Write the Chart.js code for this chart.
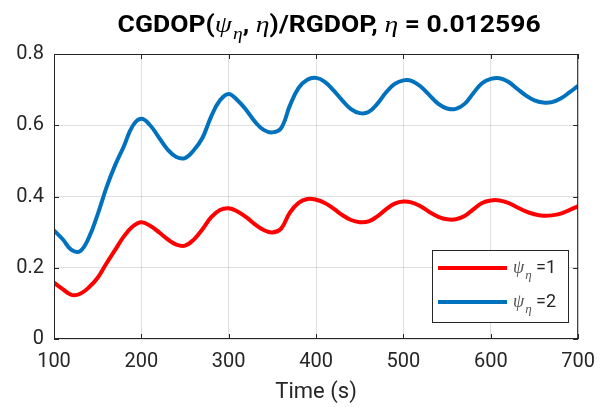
<!DOCTYPE html>
<html>
<head>
<meta charset="utf-8">
<script src="https://cdn.jsdelivr.net/npm/chart.js@4/dist/chart.umd.min.js"></script>
<style>
  html, body { margin: 0; padding: 0; background: #ffffff; }
  #wrap { width: 606px; height: 407px; }
</style>
</head>
<body>
<div id="wrap"><canvas id="c" width="606" height="407"></canvas></div>
<script>
// Sample times (s)
const times = [
  100, 110, 120, 130, 140, 150, 160, 170, 180, 190,
  200, 210, 220, 230, 240, 250, 260, 270, 280, 290,
  300, 310, 320, 330, 340, 350, 360, 370, 380, 390,
  400, 410, 420, 430, 440, 450, 460, 470, 480, 490,
  500, 510, 520, 530, 540, 550, 560, 570, 580, 590,
  600, 610, 620, 630, 640, 650, 660, 670, 680, 690,
  700
];

// CGDOP/RGDOP ratio for psi_eta = 1
const ratioPsi1 = [
  0.158, 0.140, 0.124, 0.127, 0.145, 0.172, 0.212, 0.250, 0.288, 0.316,
  0.328, 0.318, 0.300, 0.280, 0.265, 0.262, 0.279, 0.308, 0.342, 0.362,
  0.367, 0.358, 0.342, 0.322, 0.306, 0.299, 0.310, 0.355, 0.382, 0.393,
  0.391, 0.382, 0.366, 0.348, 0.334, 0.328, 0.330, 0.344, 0.364, 0.380,
  0.386, 0.383, 0.372, 0.356, 0.343, 0.336, 0.336, 0.345, 0.364, 0.382,
  0.389, 0.389, 0.382, 0.370, 0.358, 0.350, 0.346, 0.347, 0.352, 0.362,
  0.373
];

// CGDOP/RGDOP ratio for psi_eta = 2
const ratioPsi2 = [
  0.305, 0.280, 0.250, 0.247, 0.285, 0.350, 0.425, 0.488, 0.541, 0.598,
  0.618, 0.600, 0.566, 0.532, 0.511, 0.508, 0.530, 0.565, 0.625, 0.670,
  0.688, 0.670, 0.643, 0.610, 0.587, 0.580, 0.592, 0.655, 0.705, 0.728,
  0.733, 0.722, 0.698, 0.670, 0.645, 0.634, 0.637, 0.660, 0.692, 0.716,
  0.726, 0.724, 0.708, 0.684, 0.660, 0.647, 0.646, 0.660, 0.690, 0.718,
  0.730, 0.732, 0.722, 0.703, 0.684, 0.670, 0.664, 0.665, 0.675, 0.692,
  0.711
];

const xTicks = [100, 200, 300, 400, 500, 600, 700];
const yTicks = [0, 0.2, 0.4, 0.6, 0.8];
const seriesLabels = ['ψη =1', 'ψη =2'];
const seriesColors = ['#ff0000', '#0072bd'];

const INK = '#262626';
const SANS = 'Roboto, "Noto Sans", sans-serif';
const GREEK = '"Liberation Serif", "DejaVu Serif", serif';

// Draw a sequence of text runs (different fonts / baselines) on one line,
// optionally stretched to a given total width.
function drawRuns(ctx, runs, x, y, align, fitWidth) {
  let total = 0;
  for (const r of runs) {
    ctx.font = r.font;
    r.w = ctx.measureText(r.text).width;
    total += r.w + (r.gap || 0);
  }
  const sx = fitWidth ? fitWidth / total : 1;
  ctx.save();
  ctx.translate(align === 'center' ? x - (total * sx) / 2 : x, y);
  ctx.scale(sx, 1);
  ctx.textBaseline = 'alphabetic';
  ctx.textAlign = 'left';
  let cx = 0;
  for (const r of runs) {
    ctx.font = r.font;
    ctx.fillStyle = r.color || INK;
    ctx.fillText(r.text, cx, r.dy || 0);
    cx += r.w + (r.gap || 0);
  }
  ctx.restore();
}

const frameAndText = {
  id: 'frameAndText',
  afterDatasetsDraw(chart) {
    const { ctx, chartArea: a, scales } = chart;
    ctx.save();

    // axes box
    ctx.strokeStyle = INK;
    ctx.lineWidth = 1;
    ctx.strokeRect(a.left + 0.5, a.top + 0.5, a.right - a.left - 1, a.bottom - a.top - 1);

    // inward tick marks on all four sides
    const tl = 5;
    ctx.beginPath();
    for (const v of xTicks) {
      const px = Math.round(scales.x.getPixelForValue(v)) + 0.5;
      ctx.moveTo(px, a.bottom); ctx.lineTo(px, a.bottom - tl);
      ctx.moveTo(px, a.top); ctx.lineTo(px, a.top + tl);
    }
    for (const v of yTicks) {
      const py = Math.round(scales.y.getPixelForValue(v)) + 0.5;
      ctx.moveTo(a.left, py); ctx.lineTo(a.left + tl, py);
      ctx.moveTo(a.right, py); ctx.lineTo(a.right - tl, py);
    }
    ctx.stroke();

    // title
    const tb = 'bold 23px ' + SANS;
    const tg = 'italic 24px ' + GREEK;
    const ts = 'italic 17px ' + GREEK;
    drawRuns(ctx, [
      { text: 'CGDOP(', font: tb, color: '#000' },
      { text: 'ψ', font: tg, color: '#000', gap: 1 },
      { text: 'η', font: ts, color: '#000', dy: 7 },
      { text: ', ', font: tb, color: '#000' },
      { text: 'η', font: tg, color: '#000' },
      { text: ')/RGDOP, ', font: tb, color: '#000' },
      { text: 'η', font: tg, color: '#000' },
      { text: ' = 0.012596', font: tb, color: '#000' }
    ], (a.left + a.right) / 2 + 13, 31.5, 'center', 423);

    // legend
    const lx = 432, ly = 250, lw = 136, lh = 72;
    ctx.fillStyle = '#ffffff';
    ctx.fillRect(lx, ly, lw, lh);
    ctx.strokeStyle = INK;
    ctx.lineWidth = 1;
    ctx.strokeRect(lx + 0.5, ly + 0.5, lw, lh);
    const rows = [268, 302];
    chart.data.datasets.forEach((ds, i) => {
      ctx.strokeStyle = ds.borderColor;
      ctx.lineWidth = 4;
      ctx.beginPath();
      ctx.moveTo(438, rows[i]);
      ctx.lineTo(507, rows[i]);
      ctx.stroke();
      drawRuns(ctx, [
        { text: 'ψ', font: 'italic 18px ' + GREEK, color: '#555', gap: 1 },
        { text: 'η', font: 'italic 13px ' + GREEK, color: '#555', dy: 6 },
        { text: ' =' + (i + 1), font: '18px ' + SANS, color: INK }
      ], 513, rows[i] + 5, 'left');
    });

    ctx.restore();
  }
};

new Chart(document.getElementById('c'), {
  type: 'line',
  data: {
    datasets: [ratioPsi1, ratioPsi2].map((vals, i) => ({
      label: seriesLabels[i],
      data: times.map((t, k) => ({ x: t, y: vals[k] })),
      borderColor: seriesColors[i],
      backgroundColor: seriesColors[i],
      borderWidth: 4,
      pointRadius: 0,
      tension: 0.4,
      fill: false
    }))
  },
  options: {
    responsive: false,
    animation: false,
    devicePixelRatio: 1,
    layout: { padding: { left: 0, top: 54, right: 19, bottom: 0 } },
    plugins: {
      legend: { display: false },
      title: { display: false },
      tooltip: { enabled: false }
    },
    scales: {
      x: {
        type: 'linear',
        min: 100,
        max: 700,
        afterBuildTicks(scale) { scale.ticks = xTicks.map(v => ({ value: v })); },
        afterFit(scale) { scale.height = 68; },
        grid: { color: 'rgba(38,38,38,0.15)', drawTicks: false },
        border: { display: false },
        ticks: {
          color: INK,
          font: { family: SANS, size: 20 },
          padding: 11,
          maxRotation: 0,
          callback: v => String(v)
        },
        title: {
          display: true,
          text: 'Time (s)',
          color: INK,
          font: { family: SANS, size: 22 },
          padding: { top: 0, bottom: 1 }
        }
      },
      y: {
        min: 0,
        max: 0.8,
        afterBuildTicks(scale) { scale.ticks = yTicks.map(v => ({ value: v })); },
        afterFit(scale) { scale.width = 54; },
        grid: { color: 'rgba(38,38,38,0.15)', drawTicks: false },
        border: { display: false },
        ticks: {
          color: INK,
          font: { family: SANS, size: 20 },
          padding: 10,
          callback: v => String(v)
        }
      }
    }
  },
  plugins: [frameAndText]
});
</script>
</body>
</html>
